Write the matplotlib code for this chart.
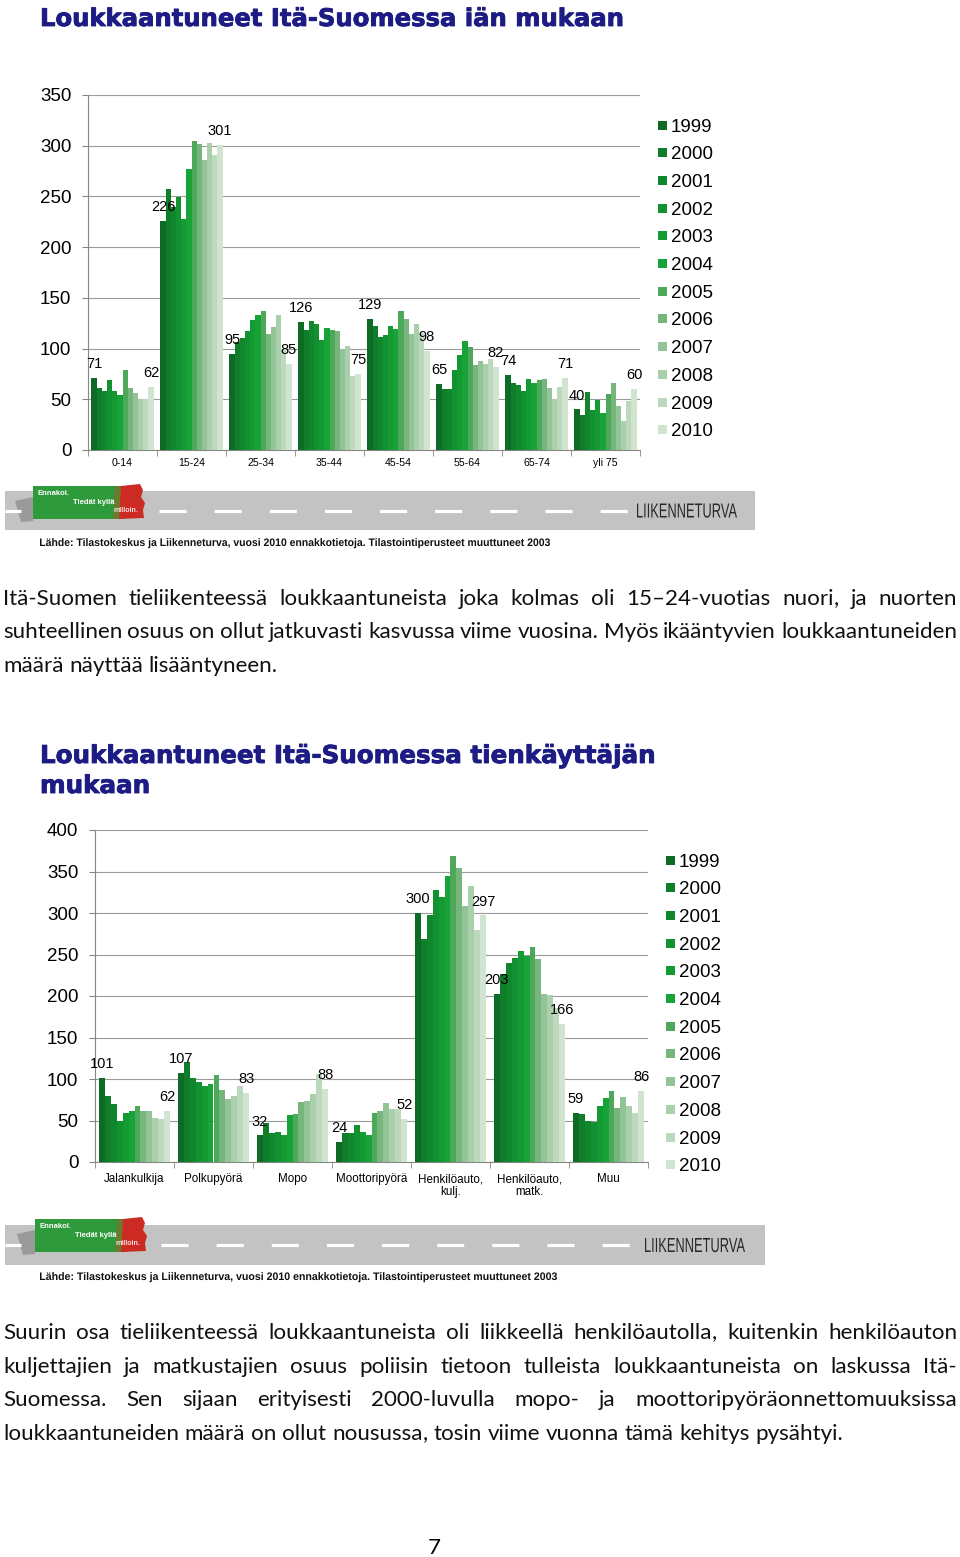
import matplotlib
matplotlib.use('Agg')
import matplotlib.pyplot as plt
import numpy as np
from matplotlib.patches import Rectangle, Polygon, PathPatch
from matplotlib.textpath import TextPath
from matplotlib.font_manager import FontProperties
from matplotlib.transforms import Affine2D
import matplotlib.patheffects as pe

plt.rcParams['font.family'] = ['Liberation Sans', 'DejaVu Sans']
plt.rcParams['lines.scale_dashes'] = False

# vuodet ja värit (tummasta vaaleaan)
vuodet = [str(v) for v in range(1999, 2011)]
varit = ['#0d6b25', '#0f7d2a', '#10862d', '#129130', '#149a33', '#17a338',
         '#4ea85a', '#76b67d', '#93c497', '#a9d0ab', '#bcd9bd', '#d0e4d0']

# kaavio 1: iän mukaan
ikaryhmat = ['0-14', '15-24', '25-34', '35-44', '45-54', '55-64', '65-74', 'yli 75']
ika_0_14 = [71, 61, 58, 69, 58, 54, 79, 61, 56, 50, 50, 62]
ika_15_24 = [226, 257, 240, 249, 228, 277, 305, 302, 286, 303, 291, 301]
ika_25_34 = [95, 106, 110, 117, 128, 133, 137, 114, 121, 133, 100, 85]
ika_35_44 = [126, 118, 127, 124, 108, 120, 118, 117, 100, 103, 73, 75]
ika_45_54 = [129, 122, 111, 113, 122, 119, 137, 129, 114, 124, 115, 98]
ika_55_64 = [65, 60, 60, 79, 94, 107, 102, 84, 88, 85, 90, 82]
ika_65_74 = [74, 66, 64, 58, 70, 66, 69, 70, 61, 50, 62, 71]
ika_yli_75 = [40, 35, 57, 39, 49, 36, 55, 66, 43, 29, 48, 60]
ika_arvot = [ika_0_14, ika_15_24, ika_25_34, ika_35_44,
             ika_45_54, ika_55_64, ika_65_74, ika_yli_75]

# kaavio 2: tienkäyttäjän mukaan
tienkayttajat = ['Jalankulkija', 'Polkupyörä', 'Mopo', 'Moottoripyörä',
                 'Henkilöauto,\nkulj.', 'Henkilöauto,\nmatk.', 'Muu']
jalankulkija = [101, 80, 70, 50, 59, 61, 67, 62, 61, 53, 52, 62]
polkupyora = [107, 120, 101, 96, 92, 94, 105, 87, 76, 79, 92, 83]
mopo = [32, 47, 35, 36, 32, 57, 58, 72, 74, 82, 106, 88]
moottoripyora = [24, 35, 35, 44, 36, 32, 59, 62, 71, 64, 64, 52]
henkiloauto_kulj = [300, 269, 298, 328, 319, 345, 369, 354, 308, 333, 279, 297]
henkiloauto_matk = [203, 227, 240, 246, 254, 248, 259, 244, 202, 201, 186, 166]
muu = [59, 58, 49, 48, 68, 77, 86, 65, 78, 67, 59, 86]
tie_arvot = [jalankulkija, polkupyora, mopo, moottoripyora,
             henkiloauto_kulj, henkiloauto_matk, muu]

lahde = 'Lähde: Tilastokeskus ja Liikenneturva, vuosi 2010 ennakkotietoja. Tilastointiperusteet muuttuneet 2003'

kappale1 = ['Itä-Suomen tieliikenteessä loukkaantuneista joka kolmas oli 15–24-vuotias nuori, ja nuorten',
            'suhteellinen osuus on ollut jatkuvasti kasvussa viime vuosina. Myös ikääntyvien loukkaantuneiden',
            'määrä näyttää lisääntyneen.']
kappale2 = ['Suurin osa tieliikenteessä loukkaantuneista oli liikkeellä henkilöautolla, kuitenkin henkilöauton',
            'kuljettajien ja matkustajien osuus poliisin tietoon tulleista loukkaantuneista on laskussa Itä-',
            'Suomessa. Sen sijaan erityisesti 2000-luvulla mopo- ja moottoripyöräonnettomuuksissa',
            'loukkaantuneiden määrä on ollut nousussa, tosin viime vuonna tämä kehitys pysähtyi.']

W, H = 960, 1557
fig = plt.figure(figsize=(W / 100, H / 100), dpi=100)
renderer = fig.canvas.get_renderer()

# pohja pikselikoordinaateissa
bg = fig.add_axes([0, 0, 1, 1])
bg.set_xlim(0, W)
bg.set_ylim(H, 0)
bg.axis('off')
bg.set_zorder(0)


def leveys(t):
    return t.get_window_extent(renderer).width


def sovita(x, y, s, w, koko=12, **kw):
    # fonttikoko niin että teksti on w pikseliä leveä
    t = bg.text(x, y, s, fontsize=koko, va='baseline', **kw)
    t.set_fontsize(koko * w / leveys(t))
    return t


def kapea(x, y, s, w, h, vari, paino='normal'):
    # tiivistetty teksti polkuna: leveys w ja versaalikorkeus h pikseleinä
    fp = FontProperties(family='Liberation Sans', weight=paino)
    tp = TextPath((0, 0), s, size=10, prop=fp)
    ext = tp.get_extents()
    cap = TextPath((0, 0), 'H', size=10, prop=fp).get_extents().height
    sx = w / ext.width
    sy = h / cap
    tr = Affine2D().translate(-ext.x0, 0).scale(sx, -sy).translate(x, y)
    bg.add_patch(PathPatch(tr.transform_path(tp), color=vari, lw=0))


def tasaa(rivit, x0, x1, y0, dy, koko, perhe):
    vali_t = bg.text(0, 0, 'a a', fontsize=koko, family=perhe)
    aa_t = bg.text(0, 0, 'aa', fontsize=koko, family=perhe)
    vali = leveys(vali_t) - leveys(aa_t)
    vali_t.remove()
    aa_t.remove()
    for k, rivi in enumerate(rivit):
        sanat = rivi.split()
        y = y0 + k * dy
        osat = []
        for s in sanat:
            # pilkku omaksi tekstikseen
            if s.endswith(','):
                a = bg.text(0, y, s[:-1], fontsize=koko, family=perhe, va='baseline', color='#111111')
                b = bg.text(0, y, ',', fontsize=koko, family=perhe, va='baseline', color='#111111')
                osat.append([a, b])
            else:
                osat.append([bg.text(0, y, s, fontsize=koko, family=perhe, va='baseline',
                                     color='#111111')])
        lev = [sum(leveys(t) for t in o) for o in osat]
        if k == len(rivit) - 1:
            g = vali
        else:
            g = (x1 - x0 - sum(lev)) / (len(sanat) - 1)
        x = x0
        for o, w in zip(osat, lev):
            xx = x
            for t in o:
                t.set_x(xx)
                xx += leveys(t)
            x += w + g


def pylvaat(rect, ryhmat, arvot, ymax, xkoko, xpad):
    ax = fig.add_axes(rect)
    ax.set_facecolor('none')
    ax.set_zorder(2)
    x = np.arange(len(ryhmat))
    n = len(vuodet)
    lev = 0.9 / n
    for j in range(n):
        ax.bar(x - 0.45 + lev * (j + 0.5), [a[j] for a in arvot], width=lev,
               color=varit[j], linewidth=0, zorder=3)
    for i, a in enumerate(arvot):
        for j in (0, n - 1):
            ax.annotate(str(a[j]), (i - 0.45 + lev * (j + 0.5), a[j]),
                        xytext=(0, 10), textcoords='offset points',
                        ha='center', va='center', fontsize=10.5, zorder=4)
    ax.set_xlim(-0.5, len(ryhmat) - 0.5)
    ax.set_ylim(0, ymax)
    ax.set_yticks(np.arange(0, ymax + 1, 50))
    ax.yaxis.grid(True, color='#9a9a9a', lw=0.8)
    ax.set_axisbelow(True)
    ax.set_xticks(x)
    ax.set_xticklabels(ryhmat, fontsize=xkoko, linespacing=1.05)
    ax.set_xticks(np.arange(len(ryhmat) + 1) - 0.5, minor=True)
    ax.tick_params(axis='x', which='major', length=0, pad=xpad)
    ax.tick_params(axis='x', which='minor', length=4, color='#868686')
    ax.tick_params(axis='y', length=4, color='#868686', labelsize=13.5, pad=8)
    for s in ('top', 'right'):
        ax.spines[s].set_visible(False)
    for s in ('left', 'bottom'):
        ax.spines[s].set_color('#868686')
    return ax


def selite(x, y0, dy):
    for j, v in enumerate(vuodet):
        y = y0 + j * dy
        bg.add_patch(Rectangle((x, y - 4.5), 9, 9, color=varit[j], lw=0))
        bg.text(x + 13, y + 6.5, v, fontsize=13.5, va='baseline', ha='left')


def banneri(x0, x1, y0, y1, lx, ly, viiva_loppu, teksti_x, lahde_y, lahde_w):
    ym = (y0 + y1) / 2
    bg.add_patch(Rectangle((x0, y0), x1 - x0, y1 - y0, color='#c3c3c3', lw=0))
    bg.plot([x0, x0 + 16], [ym, ym], color='white', lw=2.3, solid_capstyle='butt')
    bg.plot([lx + 126, viiva_loppu], [ym, ym], color='white', lw=2.3,
            dashes=(19.5, 20.2), dash_capstyle='butt')
    # logo
    bg.add_patch(Polygon([(lx - 18, ly + 16), (lx, ly + 12), (lx, ly + 36), (lx - 12, ly + 37)],
                         closed=True, color='#6a6a6a', alpha=0.45, lw=0))
    bg.add_patch(Rectangle((lx, ly + 1), 92, 33, color='#2f9a3c', lw=0))
    bg.add_patch(Polygon([(lx + 82, ly + 1), (lx + 92, ly + 1), (lx + 86, ly + 34), (lx + 80, ly + 34)],
                         closed=True, color='#6c7a2e', lw=0))
    bg.add_patch(Polygon([(lx + 88, ly + 1), (lx + 107, ly - 1), (lx + 110, ly + 5), (lx + 108, ly + 12),
                          (lx + 112, ly + 18), (lx + 110, ly + 25), (lx + 111, ly + 33), (lx + 86, ly + 34)],
                         closed=True, color='#cc2b24', lw=0))
    bg.text(lx + 5, ly + 10, 'Ennakoi.', fontsize=5.5, color='white', weight='bold')
    bg.text(lx + 40, ly + 19, 'Tiedät kyllä', fontsize=5.5, color='white', weight='bold')
    bg.text(lx + 80, ly + 27, 'milloin.', fontsize=5, color='#f4e0e0', weight='bold')
    kapea(teksti_x, ym + 7, 'LIIKENNETURVA', 100, 14, '#2a2a2a')
    kapea(40, lahde_y + 4, lahde, lahde_w, 7.5, '#111111', paino='bold')


otsikko = dict(family='DejaVu Sans', weight='bold', color='#1c1c84',
               path_effects=[pe.withStroke(linewidth=0.6, foreground='#1c1c84')])

# otsikko 1 ja kaavio 1
t1 = sovita(40, 26, 'Loukkaantuneet Itä-Suomessa iän mukaan', 581, **otsikko)
pylvaat([88 / W, 1 - 450 / H, 552 / W, 355 / H], ikaryhmat, ika_arvot, 350, 7.6, 6)
selite(658, 125, 27.7)
banneri(5, 755, 491, 530, 33, 485, 632, 637, 542, 510)

# kappale 1
perhe = ['Lato', 'DejaVu Sans']
apu = bg.text(0, 0, kappale1[-1], fontsize=16, family=perhe)
body = 16 * 275 / leveys(apu)
apu.remove()
tasaa(kappale1, 3, 957, 605, 33.3, body, perhe)

# otsikko 2 ja kaavio 2
t2 = sovita(40, 763, 'Loukkaantuneet Itä-Suomessa tienkäyttäjän', 613, **otsikko)
bg.text(40, 793, 'mukaan', fontsize=t2.get_fontsize(), va='baseline', **otsikko)
pylvaat([95 / W, 1 - 1162 / H, 553 / W, 332 / H], tienkayttajat, tie_arvot, 400, 8.4, 8)
selite(666, 860, 27.7)
banneri(5, 765, 1225, 1265, 35, 1218, 640, 645, 1276, 517)

# kappale 2
tasaa(kappale2, 3, 957, 1339, 33.7, body, perhe)

bg.text(434, 1554, '7', fontsize=body, family=perhe, ha='center', va='baseline')

fig.savefig('out.png', dpi=100)
